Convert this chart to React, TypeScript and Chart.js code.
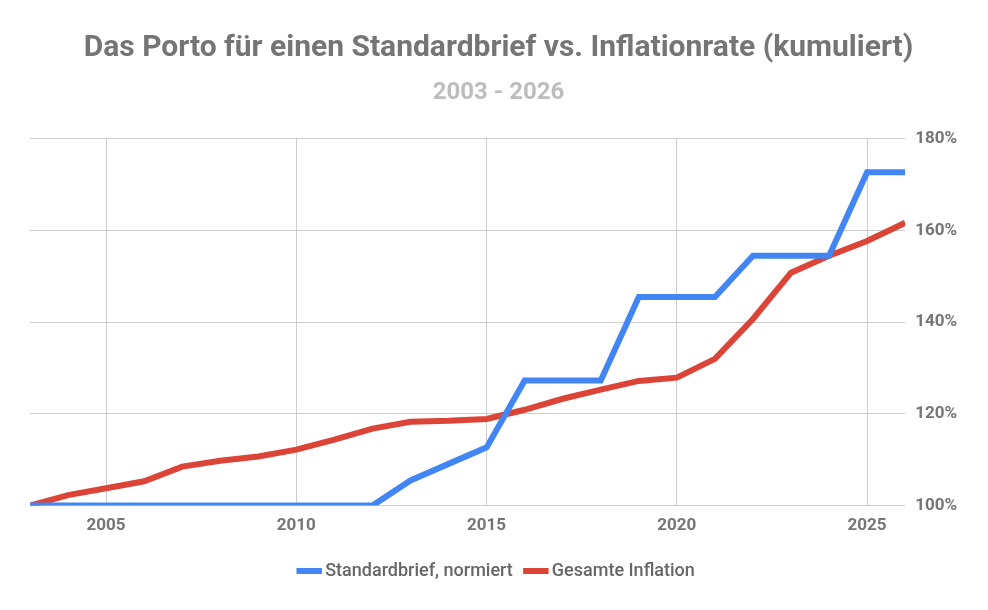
import { useEffect, useRef } from "react"
import Chart from "chart.js/auto"

const years = [
  2003, 2004, 2005, 2006, 2007, 2008, 2009, 2010, 2011, 2012, 2013, 2014,
  2015, 2016, 2017, 2018, 2019, 2020, 2021, 2022, 2023, 2024, 2025, 2026,
]
const standardbrief = [
  100, 100, 100, 100, 100, 100, 100, 100, 100, 100, 105.5, 109.1,
  112.7, 127.3, 127.3, 127.3, 145.5, 145.5, 145.5, 154.5, 154.5, 154.5, 172.7, 172.7,
]
const inflation = [
  100, 102.3, 103.8, 105.3, 108.5, 109.8, 110.7, 112.2, 114.4, 116.8, 118.3, 118.5,
  118.9, 120.9, 123.3, 125.3, 127.2, 127.9, 132.0, 140.7, 150.8, 154.5, 157.7, 161.7,
]
const xTicks = [2005, 2010, 2015, 2020, 2025]
const yTicks = [100, 120, 140, 160, 180]

export default function App() {
  const chartRef = useRef<HTMLCanvasElement>(null)
  const chartInstance = useRef<Chart | null>(null)

  useEffect(() => {
    document.body.style.margin = "0"
    if (!chartRef.current) return
    if (chartInstance.current) chartInstance.current.destroy()
    const ctx = chartRef.current.getContext("2d")
    if (!ctx) return

    const font = "Roboto"
    chartInstance.current = new Chart(ctx, {
      type: "line",
      data: {
        datasets: [
          {
            label: "Standardbrief, normiert",
            data: years.map((y, i) => ({ x: y, y: standardbrief[i] })),
            borderColor: "#4285F4",
            backgroundColor: "#4285F4",
            borderWidth: 6,
            pointRadius: 0,
            tension: 0,
          },
          {
            label: "Gesamte Inflation",
            data: years.map((y, i) => ({ x: y, y: inflation[i] })),
            borderColor: "#DB4437",
            backgroundColor: "#DB4437",
            borderWidth: 6,
            pointRadius: 0,
            tension: 0,
          },
        ],
      },
      options: {
        animation: false,
        responsive: false,
        layout: { padding: { top: 30, left: 30, right: 21, bottom: 20 } },
        plugins: {
          title: {
            display: true,
            text: "Das Porto für einen Standardbrief vs. Inflationrate (kumuliert)",
            color: "#757575",
            font: { family: font, size: 30, weight: "bold" },
            padding: { top: 0, bottom: 13 },
          },
          subtitle: {
            display: true,
            text: "2003 - 2026",
            color: "#BDBDBD",
            font: { family: font, size: 24, weight: "bold" },
            padding: { top: 0, bottom: 31 },
          },
          legend: {
            position: "bottom",
            labels: {
              usePointStyle: true,
              pointStyle: "line",
              boxWidth: 14,
              color: "#666666",
              font: { family: font, size: 18, weight: 500 },
              padding: 16,
            },
          },
          tooltip: { enabled: false },
        },
        scales: {
          x: {
            type: "linear",
            min: 2003,
            max: 2026,
            afterBuildTicks: (scale: any) => {
              scale.ticks = xTicks.map((v) => ({ value: v }))
            },
            grid: { color: "#CCCCCC", drawTicks: false },
            border: { display: false },
            ticks: {
              color: "#757575",
              padding: 10,
              font: { family: font, size: 17, weight: "bold" },
              callback: (v: any) => String(v),
            },
          },
          y: {
            position: "right",
            min: 100,
            max: 180,
            afterBuildTicks: (scale: any) => {
              scale.ticks = yTicks.map((v) => ({ value: v }))
            },
            grid: { color: "#CCCCCC", drawTicks: false },
            border: { display: false },
            ticks: {
              color: "#757575",
              padding: 10,
              font: { family: font, size: 17, weight: "bold" },
              callback: (v: any) => v + "%",
            },
          },
        },
      },
    })

    return () => {
      if (chartInstance.current) chartInstance.current.destroy()
    }
  }, [])

  return (
    <div style={{ width: 988, height: 610, background: "#fff" }}>
      <canvas ref={chartRef} width={988} height={610} style={{ width: 988, height: 610 }} />
    </div>
  )
}
